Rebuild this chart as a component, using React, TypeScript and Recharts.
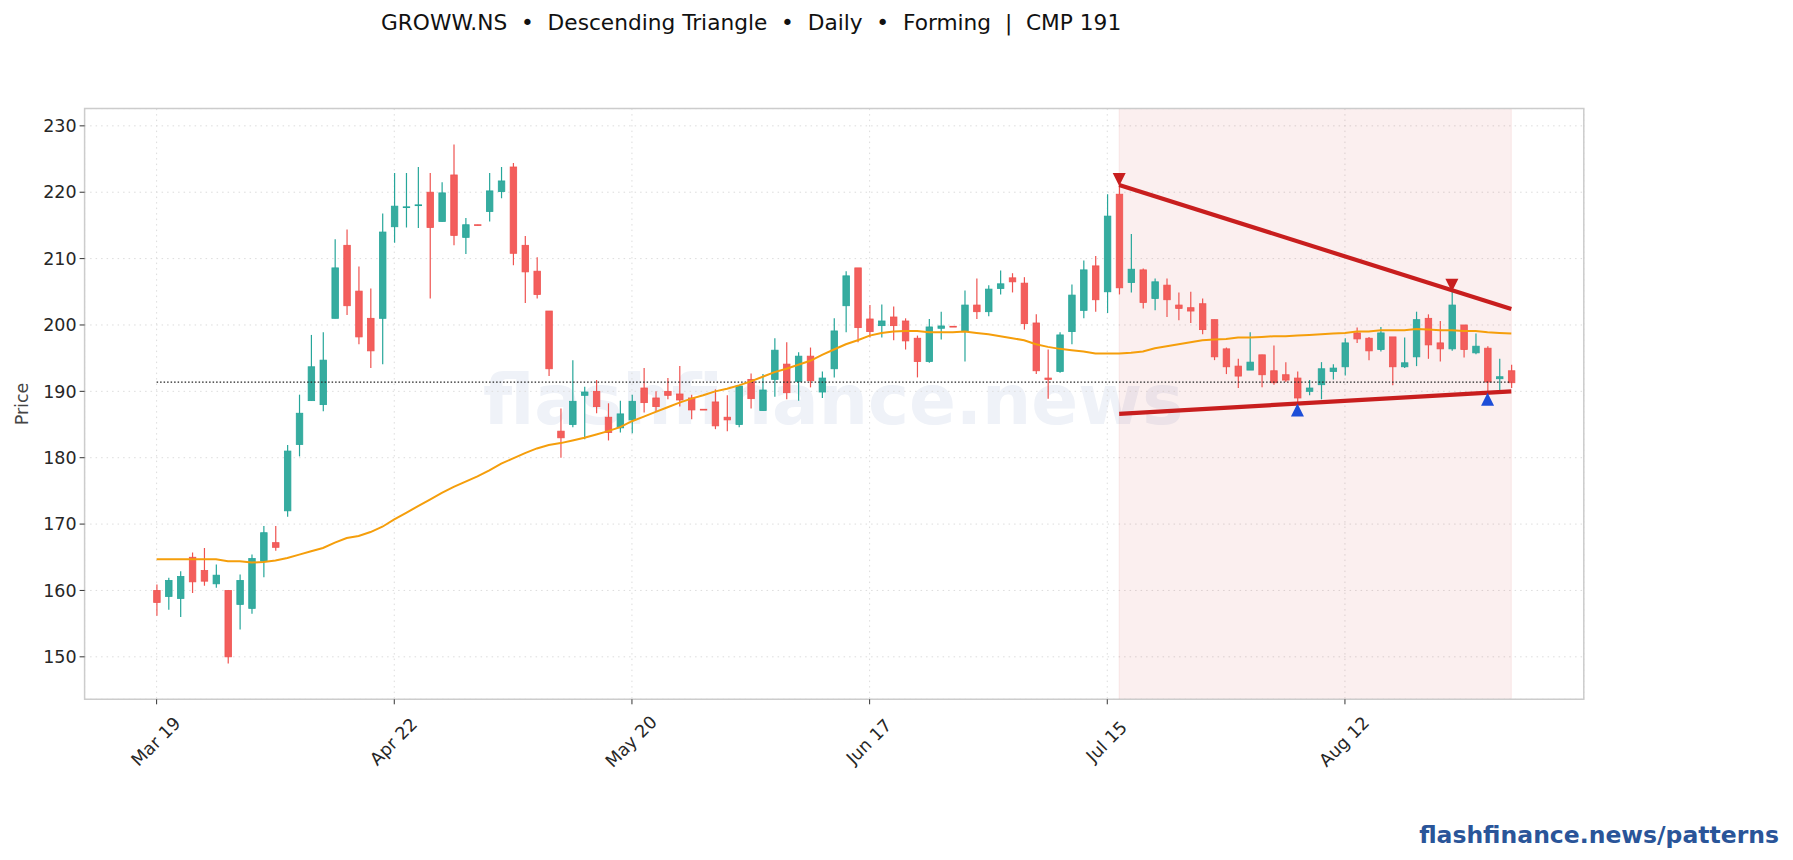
import React from 'react';
import { ComposedChart, Bar, Line, XAxis, YAxis, CartesianGrid, ReferenceArea, ReferenceLine, ReferenceDot } from 'recharts';

const opens = [
  160, 159.1, 158.8, 165, 163, 161, 160, 157.9, 157.3, 164.4, 167.2, 172, 182,
  188.6, 188, 201, 212, 205.1, 201, 201, 214.8, 217.7, 218, 220, 215.6, 222.6, 213.2, 215.1, 217.1, 220.1,
  223.8, 212, 208.1, 202.1, 184, 185, 189.4, 190, 186.1, 184.5, 185.7, 190.5, 189, 190, 189.6, 189, 187.3,
  188.4, 186.1, 185, 191.8, 187.1, 191.8, 194.1, 191.5, 195.3, 189.9, 193.4, 202.9, 208.6, 200.9, 199.9, 201.2,
  200.6, 198, 194.5, 199.5, 199.8, 199, 203, 202, 205.5, 207.1, 206.3, 200.3, 192, 193, 199, 202.2,
  208.9, 205, 219.7, 206.4, 208.3, 204, 206, 203, 202.6, 203.2, 200.8, 196.4, 193.8, 193.2, 195.5, 193.1,
  192.5, 192, 190, 191, 193, 193.7, 198.8, 198, 196.3, 198.2, 193.7, 195.2, 201, 197.3, 196.4, 200, 195.8,
  196.5, 191.9, 193.1,
];
const closes = [
  158.2, 161.5, 162.1, 161.3, 161.4, 162.3, 150, 161.5, 164.8, 168.7, 166.5, 181, 186.7,
  193.7, 194.7, 208.6, 202.9, 198.2, 196.1, 214, 217.9, 217.8, 218.1, 214.7, 219.9, 213.5, 215.1, 215, 220.2, 221.7,
  210.8, 208, 204.6, 193.4, 183, 188.5, 189.9, 187.7, 183.8, 186.6, 188.5, 188.3, 187.7, 189.4, 188.7, 187.2, 187.2,
  184.8, 185.7, 190.8, 188.9, 190.2, 196.2, 189.8, 195.3, 191.6, 192, 199.1, 207.4, 199.6, 199, 200.6, 199.9,
  197.6, 194.5, 199.7, 199.85, 199.7, 203, 202, 205.4, 206.2, 206.5, 200.2, 193.1, 191.8, 198.5, 204.5, 208.3,
  203.8, 216.4, 205.6, 208.4, 203.4, 206.5, 203.8, 202.5, 202.1, 199.3, 195.2, 193.7, 192.3, 194.4, 192.5, 191.3,
  191.7, 189, 190.5, 193.4, 193.5, 197.3, 197.9, 196.1, 198.8, 193.7, 194.3, 200.8, 197, 196.4, 203, 196.3, 196.8,
  191.4, 192.2, 191.3,
];
const highs = [
  160.9, 161.9, 162.9, 165.7, 166.4, 163.9, 160, 162.4, 165.4, 169.7, 169.7, 181.9, 189.5,
  198.5, 198.9, 212.9, 214.4, 208.8, 205.5, 216.8, 222.9, 222.9, 223.8, 222.9, 221.5, 227.2, 216.1, 215.1, 222.9, 223.8,
  224.4, 213.4, 210.2, 202.1, 187.4, 194.7, 190.7, 191.7, 188.2, 188.6, 189.5, 193.5, 190, 192, 193.8, 189.5, 187.3,
  190.3, 189.4, 190.8, 192.7, 192.6, 198, 197.4, 195.9, 196.6, 193, 201, 208.1, 208.6, 203, 203.1, 202.8,
  201, 198.4, 200.9, 202, 199.8, 205.2, 207, 206, 208.2, 207.8, 207.2, 201.6, 196.3, 198.9, 206.1, 209.7,
  210.4, 219.7, 221.1, 213.7, 208.5, 207, 207, 204.9, 205, 204, 200.8, 196.6, 194.9, 198.9, 195.5, 196.9,
  194.4, 193, 191.7, 194.4, 194.1, 198, 199.6, 198.2, 199.7, 198.2, 198.1, 202, 201.6, 200.6, 205.4, 200, 198.7,
  196.8, 194.9, 194,
];
const lows = [
  156.2, 157.1, 156, 159.6, 160.7, 160.4, 149, 154.1, 156.5, 162, 166, 171.1, 180.2,
  188.6, 187, 201, 201.5, 197.1, 193.5, 194.1, 212.4, 214.7, 214.6, 204, 215.6, 212, 210.7, 215, 215.6, 219.1,
  209, 203.3, 204, 192.3, 180, 184.6, 182.8, 186.7, 182.6, 183.8, 183.7, 186.8, 186.9, 188.8, 187.7, 185.8, 187.2,
  184.3, 184, 184.6, 187.4, 187.1, 189.2, 188.8, 188.6, 190.6, 189, 192.1, 198.9, 197.4, 198.1, 198.1, 197.7,
  196.3, 192.1, 194.3, 197.8, 199.7, 194.5, 200.9, 201.3, 204.6, 204.9, 199.3, 192.6, 188.9, 192.8, 197.1, 201,
  202, 201.8, 204.6, 204.9, 202.5, 202.2, 201.2, 200.7, 200.3, 198.6, 194.7, 192.6, 190.5, 193.2, 190.6, 191,
  191.4, 188, 189.4, 188.8, 191.8, 192.4, 197.3, 194.7, 196, 190.9, 193.5, 193.8, 194.9, 194.5, 196.1, 195.1, 195.6,
  190, 190, 190.5,
];
const ema = [
  164.7, 164.7, 164.7, 164.7, 164.7, 164.7, 164.4, 164.4, 164.2, 164.3, 164.5, 164.9, 165.4,
  165.9, 166.4, 167.2, 167.9, 168.2, 168.8, 169.6, 170.7, 171.7, 172.7, 173.7, 174.7, 175.6, 176.4, 177.2, 178.1, 179.1,
  179.9, 180.7, 181.4, 181.9, 182.2, 182.6, 183, 183.5, 184, 184.6, 185.5, 186.2, 186.9, 187.6, 188.3, 188.9, 189.4,
  190, 190.4, 190.9, 191.5, 192.2, 192.9, 193.4, 194, 194.6, 195.5, 196.3, 197.1, 197.7, 198.4, 198.8, 199,
  199.1, 199.1, 198.9, 198.9, 198.9, 199, 198.8, 198.6, 198.3, 198, 197.7, 197.1, 196.7, 196.4, 196.2, 196,
  195.7, 195.7, 195.7, 195.8, 196, 196.5, 196.8, 197.1, 197.4, 197.7, 197.8, 197.9, 198.1, 198.1, 198.2, 198.3,
  198.3, 198.4, 198.5, 198.6, 198.7, 198.8, 199, 199, 199.2, 199.2, 199.2, 199.4, 199.3, 199.2, 199.2, 199.1, 199.1,
  198.9, 198.8, 198.7,
];

const tickIndex = [0, 20, 40, 60, 80, 100];
const tickLabels = ['Mar 19', 'Apr 22', 'May 20', 'Jun 17', 'Jul 15', 'Aug 12'];
const priceTicks = [150, 160, 170, 180, 190, 200, 210, 220, 230];

const xDomain = [-6.06, 120.1];
const yDomain = [143.6, 232.6];

const upperTrend = [{ x: 81, y: 221.1 }, { x: 114, y: 202.4 }];
const lowerTrend = [{ x: 81, y: 186.6 }, { x: 114, y: 190 }];
const pivotHighs = [{ x: 81, y: 221.9 }, { x: 109, y: 206 }];
const pivotLows = [{ x: 96, y: 187.2 }, { x: 112, y: 188.8 }];
const cmpLevel = 191.4;

const table = opens.map((o, i) => ({
  i,
  open: o,
  close: closes[i],
  high: highs[i],
  low: lows[i],
  ema: ema[i],
}));

const Candle = (props: any) => {
  const { x, y, width, height, payload } = props;
  const { open, close, high, low } = payload;
  const up = close >= open;
  const unit = height / (high - low);
  const top = y + (high - Math.max(open, close)) * unit;
  const bodyH = Math.max(Math.abs(open - close) * unit, 0.8);
  const mid = x + width / 2;
  const edge = up ? '#26a69a' : '#ef5350';
  return (
    <g>
      <line x1={mid} x2={mid} y1={y} y2={y + height} stroke={edge} strokeWidth={1.2} />
      <rect x={x} y={top} width={width} height={bodyH} fill={up ? '#36ac9f' : '#f35e5c'} stroke={edge} strokeWidth={0.8} />
    </g>
  );
};

const DateTick = (props: any) => {
  const { x, y, payload } = props;
  const label = tickLabels[tickIndex.indexOf(payload.value)];
  return (
    <text x={x} y={y + 36} textAnchor="middle" dominantBaseline="middle" fontSize={17.5} fill="#262626"
      fontFamily="DejaVu Sans" transform={`rotate(-45 ${x} ${y + 36})`}>
      {label}
    </text>
  );
};

const markerDown = (props: any) => {
  const { cx, cy } = props;
  return <path d={`M${cx - 6.5} ${cy - 6.5}L${cx + 6.5} ${cy - 6.5}L${cx} ${cy + 6.5}Z`} fill="#c81e1e" />;
};
const markerUp = (props: any) => {
  const { cx, cy } = props;
  return <path d={`M${cx - 6.5} ${cy + 6.5}L${cx + 6.5} ${cy + 6.5}L${cx} ${cy - 6.5}Z`} fill="#1d4ed8" />;
};

export default function App() {
  return (
    <div style={{ position: 'absolute', left: 0, top: 0, width: 1793, height: 860, fontFamily: 'DejaVu Sans', background: '#fff' }}>
      <div style={{ position: 'absolute', left: 381, top: 10, fontSize: 21.7, color: '#111', whiteSpace: 'pre' }}>
        GROWW.NS  •  Descending Triangle  •  Daily  •  Forming  |  CMP 191
      </div>
      <div style={{ position: 'absolute', left: 483, top: 360, fontSize: 69.2, fontWeight: 700, color: '#eff2f8', whiteSpace: 'pre' }}>
        flashfinance.news
      </div>
      <div style={{ position: 'absolute', right: 14, top: 821, fontSize: 23.5, fontWeight: 700, color: '#2a5599', whiteSpace: 'pre' }}>
        flashfinance.news/patterns
      </div>
      <div style={{ position: 'absolute', left: 0, top: 0 }}>
        <ComposedChart width={1793} height={860} data={table} margin={{ top: 108.6, right: 209.2, bottom: 100.7, left: 24.6 }}>
          <CartesianGrid stroke="#dcdcdc" strokeDasharray="1.5 4" />
          <XAxis dataKey="i" type="number" domain={xDomain} ticks={tickIndex} interval={0} height={60}
            axisLine={false} tickLine={{ stroke: '#333' }} tickSize={5} tick={<DateTick />} allowDataOverflow />
          <YAxis type="number" domain={yDomain} ticks={priceTicks} interval={0} width={60} allowDataOverflow
            axisLine={false} tickLine={{ stroke: '#333' }} tickSize={5} tickMargin={3}
            tick={{ fontSize: 17.5, fill: '#262626', fontFamily: 'DejaVu Sans' }}
            label={{ value: 'Price', angle: -90, position: 'insideLeft', offset: -3, fontSize: 17.5, fill: '#444', fontFamily: 'DejaVu Sans', textAnchor: 'middle' }} />
          <ReferenceArea x1={81} x2={114} y1={yDomain[0]} y2={yDomain[1]} fill="#c81e1e" fillOpacity={0.07} stroke="#c81e1e" strokeOpacity={0.07} />
          <ReferenceArea x1={xDomain[0]} x2={xDomain[1]} y1={yDomain[0]} y2={yDomain[1]} fill="none" stroke="#cccccc" strokeWidth={1.5} />
          <Bar dataKey={(d: any) => [d.low, d.high]} barSize={6.5} shape={<Candle />} isAnimationActive={false} />
          <ReferenceLine segment={[{ x: 0, y: cmpLevel }, { x: 114, y: cmpLevel }]} stroke="#222" strokeWidth={1.2} strokeDasharray="1.5 2" />
          <Line dataKey="ema" stroke="#f59e0b" strokeWidth={2} dot={false} type="linear" isAnimationActive={false} />
          <ReferenceLine segment={upperTrend} stroke="#c81e1e" strokeWidth={4.2} />
          <ReferenceLine segment={lowerTrend} stroke="#c81e1e" strokeWidth={4.2} />
          {pivotHighs.map(p => <ReferenceDot key={p.x} x={p.x} y={p.y} r={6} shape={markerDown} />)}
          {pivotLows.map(p => <ReferenceDot key={p.x} x={p.x} y={p.y} r={6} shape={markerUp} />)}
        </ComposedChart>
      </div>
    </div>
  );
}
